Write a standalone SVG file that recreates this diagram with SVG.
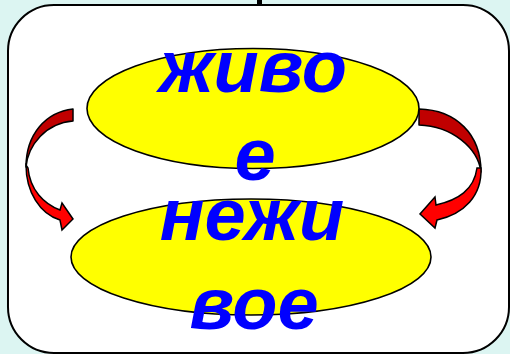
<svg xmlns="http://www.w3.org/2000/svg" width="510" height="354" viewBox="0 0 510 354">
<style>
.node{fill:#ffff00;stroke:#000;stroke-width:1.6}
.lbl{font-family:"Liberation Sans",Arial,sans-serif;font-weight:bold;font-style:italic;font-size:74px;fill:#0000ff;text-anchor:middle}
.back{fill:#c00000;stroke:#000;stroke-width:1.5;stroke-linejoin:round}
.front{fill:#ff0000;stroke:#000;stroke-width:1.5;stroke-linejoin:miter}
</style>
<rect x="0" y="0" width="510" height="354" fill="#dcf5f2"/>
<rect x="257" y="0" width="5" height="6" fill="#000"/>
<rect id="frame" x="8" y="5" width="501" height="348" rx="46" ry="46" fill="#fff" stroke="#000" stroke-width="2"/>
<g id="connectors">
  <g id="arrow-left">
    <path class="back" d="M73,109 C46,112 26,134 26,167 C28,145 46,123 73,121 Z"/>
    <path class="front" d="M26,165 C26,192 40,214 60,220 L62,230 L73,219 L62,203 L60,210 C44,204 30,190 28,168 Z"/>
  </g>
  <g id="arrow-right">
    <path class="back" d="M419,109 C456,110 481,134 481,172 C478,148 452,126 419,125 Z"/>
    <path class="front" d="M481,168 C482,196 464,214 437,220 L435,228 L420,214 L435,197 L436,205 C458,200 474,190 477,168 Z"/>
  </g>
</g>
<g id="node-alive">
  <ellipse class="node" cx="253" cy="108.5" rx="166" ry="60"/>
  <text class="lbl" x="253" y="92">живо</text>
  <text class="lbl" x="255" y="180">е</text>
</g>
<g id="node-nonliving">
  <ellipse class="node" cx="251" cy="257" rx="180" ry="58"/>
  <text class="lbl" x="252" y="240">нежи</text>
  <text class="lbl" x="254" y="329">вое</text>
</g>
</svg>
